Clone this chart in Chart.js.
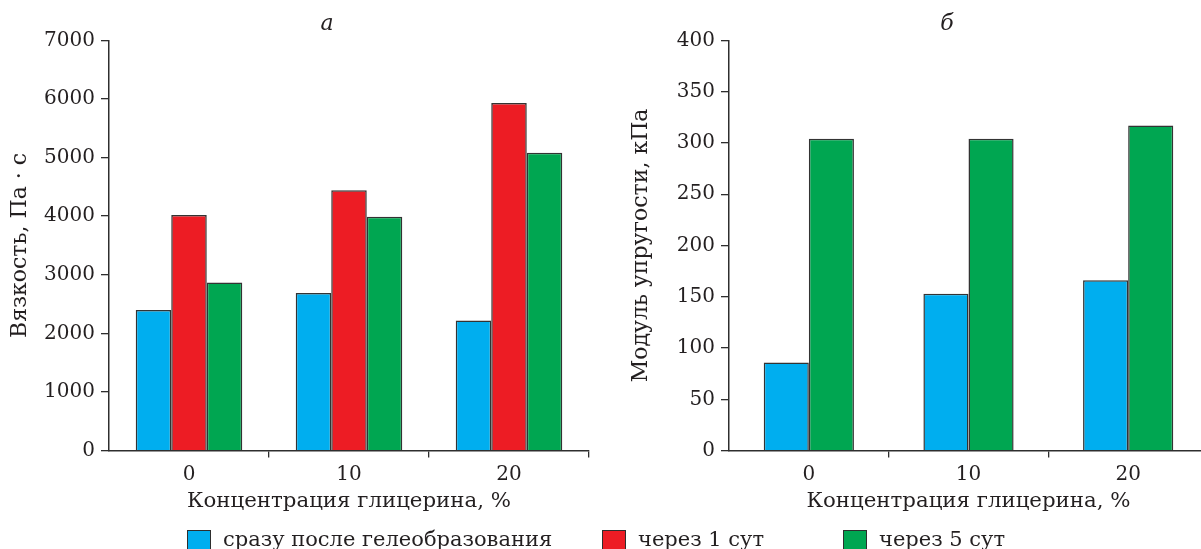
<!DOCTYPE html>
<html lang="ru">
<head>
<meta charset="utf-8">
<script src="https://cdn.jsdelivr.net/npm/chart.js@4.4.1/dist/chart.umd.min.js"></script>
<style>
  html, body { margin: 0; padding: 0; background: #ffffff; overflow: hidden; width: 1201px; height: 549px; }
  #wrap { position: relative; width: 1201px; height: 549px; overflow: hidden; }
  #cA { position: absolute; left: 0; top: 0; }
  #cB { position: absolute; left: 620px; top: 0; }
  .lg-item { position: absolute; top: 530px; display: flex; align-items: flex-start; white-space: nowrap;
             font-family: "DejaVu Serif", serif; font-size: 21px; color: #231f20; }
  .lg-box { width: 24px; height: 24px; box-sizing: border-box; border: 1.5px solid #2e2e2e; margin-right: 12px; }
  .lg-text { line-height: 24px; margin-top: -3px; }
</style>
</head>
<body>
<div id="wrap">
  <canvas id="cA" width="654" height="549"></canvas>
  <canvas id="cB" width="654" height="549"></canvas>
  <div id="legend"></div>
</div>
<script>
// ---- data ----
const categories = ['0', '10', '20'];
const seriesLabels = ['сразу после гелеобразования', 'через 1 сут', 'через 5 сут'];
const seriesColors = ['#00aeef', '#ed1c24', '#00a651'];
const viscosityFresh = [2400, 2690, 2220];
const viscosityDay1  = [4020, 4440, 5930];
const viscosityDay5  = [2870, 3990, 5080];
const modulusFresh = [86, 153, 166];
const modulusDay5  = [304, 304, 317];
const viscosityTicks = [0, 1000, 2000, 3000, 4000, 5000, 6000, 7000];
const modulusTicks = [0, 50, 100, 150, 200, 250, 300, 350, 400];
const panelTitles = ['а', 'б'];
const xTitle = 'Концентрация глицерина, %';
const yTitles = ['Вязкость, Па · с', 'Модуль упругости, кПа'];

// ---- styles ----
const TXT = '#231f20';
const AX = '#2e2e2e';
const FONT = 'DejaVu Serif';

// panel letter ("а", "б") drawn above the plot at a given x within the canvas
const panelTitlePlugin = {
  id: 'panelTitle',
  afterDraw(chart, args, opts) {
    const ctx = chart.ctx;
    ctx.save();
    ctx.font = 'italic 22px "' + FONT + '"';
    ctx.fillStyle = TXT;
    ctx.textAlign = 'center';
    ctx.textBaseline = 'alphabetic';
    ctx.fillText(opts.text, opts.x, opts.y);
    ctx.restore();
  }
};

function makeDataset(label, data, color, catPct) {
  return { label, data, backgroundColor: color, borderColor: '#333333', borderWidth: 1.5,
           borderSkipped: 'bottom', categoryPercentage: catPct, barPercentage: 1 };
}

function makeOptions(title, yTitle, ticks, yTitlePad, padRight) {
  return {
    responsive: false,
    devicePixelRatio: 1,
    animation: false,
    layout: { padding: { left: 0, right: padRight, top: 40.3, bottom: 28.4 } },
    plugins: {
      legend: { display: false },
      tooltip: { enabled: false },
      title: { display: false },
      panelTitle: { text: title, x: 327, y: 30 }
    },
    scales: {
      x: {
        type: 'category',
        offset: true,
        afterFit: (s) => { s.height = 70; },
        grid: { offset: true, drawOnChartArea: false, tickLength: 7, lineWidth: 1.3,
                tickColor: (c) => (c.index === 0 ? 'rgba(0,0,0,0)' : AX) },
        border: { display: true, color: AX, width: 1.5 },
        ticks: { color: TXT, padding: 5, font: { family: FONT, size: 20 } },
        title: { display: true, text: xTitle, color: TXT, padding: { top: 0, bottom: 6 },
                 font: { family: FONT, size: 21.3 } }
      },
      y: {
        min: ticks[0], max: ticks[ticks.length - 1],
        afterFit: (s) => { s.width = 109; },
        afterBuildTicks: (s) => { s.ticks = ticks.map(v => ({ value: v })); },
        grid: { drawOnChartArea: false, tickLength: 8, lineWidth: 1.3, tickColor: AX },
        border: { display: true, color: AX, width: 1.5 },
        ticks: { color: TXT, padding: 6, font: { family: FONT, size: 20 },
                 callback: (v) => String(v) },
        title: { display: true, text: yTitle, color: TXT, padding: { top: yTitlePad, bottom: 0 },
                 font: { family: FONT, size: 22 } }
      }
    }
  };
}

const chartA = new Chart(document.getElementById('cA'), {
  type: 'bar',
  data: {
    labels: categories,
    datasets: [
      makeDataset(seriesLabels[0], viscosityFresh, seriesColors[0], 0.666),
      makeDataset(seriesLabels[1], viscosityDay1, seriesColors[1], 0.666),
      makeDataset(seriesLabels[2], viscosityDay5, seriesColors[2], 0.666)
    ]
  },
  options: makeOptions(panelTitles[0], yTitles[0], viscosityTicks, 7, 65),
  plugins: [panelTitlePlugin]
});

const chartB = new Chart(document.getElementById('cB'), {
  type: 'bar',
  data: {
    labels: categories,
    datasets: [
      makeDataset(seriesLabels[0], modulusFresh, seriesColors[0], 0.565),
      makeDataset(seriesLabels[2], modulusDay5, seriesColors[2], 0.565)
    ]
  },
  options: makeOptions(panelTitles[1], yTitles[1], modulusTicks, 8, 66),
  plugins: [panelTitlePlugin]
});

// ---- shared legend built from chart A's legend items ----
const legendLeft = [187, 602, 843];
const items = Chart.defaults.plugins.legend.labels.generateLabels(chartA);
const legendEl = document.getElementById('legend');
items.forEach((it, i) => {
  const item = document.createElement('div');
  item.className = 'lg-item';
  item.style.left = legendLeft[i] + 'px';
  const box = document.createElement('div');
  box.className = 'lg-box';
  box.style.background = it.fillStyle;
  const txt = document.createElement('span');
  txt.className = 'lg-text';
  txt.textContent = it.text;
  item.appendChild(box);
  item.appendChild(txt);
  legendEl.appendChild(item);
});
</script>
</body>
</html>
